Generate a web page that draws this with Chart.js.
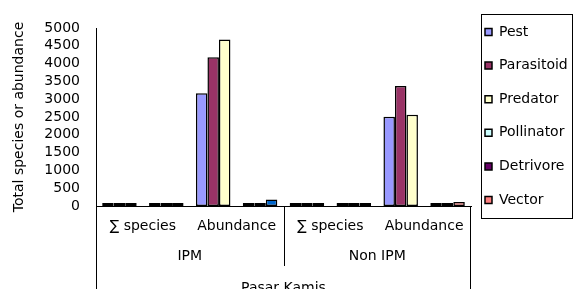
<!DOCTYPE html>
<html>
<head>
<meta charset="utf-8">
<script src="https://cdn.jsdelivr.net/npm/chart.js@4"></script>
<style>
  html, body { margin: 0; padding: 0; background: #fff; }
  #wrap { width: 574px; height: 289px; position: relative; }
</style>
</head>
<body>
<div id="wrap"><canvas id="chart"></canvas></div>
<script>
// axis groups (outer levels of the category axis)
const siteName = 'Pasar Kamis';
const groupNames = ['IPM', 'Non IPM'];
const measureNames = ['∑ species', 'Abundance'];
// inner categories (not labelled on the original chart)
const categories = [
  'IPM species 1', 'IPM species 2', 'IPM abundance 1', 'IPM abundance 2',
  'Non IPM species 1', 'Non IPM species 2', 'Non IPM abundance 1', 'Non IPM abundance 2'
];

const pest       = [30, null, 3170, null, 28, null, 2510, null];
const parasitoid = [22, null, 4180, null, 20, null, 3370, null];
const predator   = [35, null, 4680, null, 30, null, 2560, null];
const pollinator = [null, 12, null, 40, null, 10, null, 8];
const detrivore  = [null, 8, null, 10, null, 6, null, 15];
const vector     = [null, 10, null, 180, null, 9, null, 110];

const yMax = 5000;
const yStep = 500;

const FONT = 'DejaVu Sans';

function series(label, data, color) {
  return {
    label: label,
    data: data,
    backgroundColor: color,
    borderColor: '#000',
    borderWidth: 1.5,
    borderSkipped: false,
    skipNull: true,
    minBarLength: 3,
    categoryPercentage: 0.736,
    barPercentage: 1
  };
}

// Excel recoloured the IPM abundance vector bar
const vectorColor = ctx => (ctx.type === 'data' && ctx.dataIndex === 3) ? '#0066CC' : '#FF8080';

const axisLabels = {
  id: 'axisLabels',
  afterDraw(chart) {
    const ctx = chart.ctx;
    const x = chart.scales.x;
    const area = chart.chartArea;
    const bottom = chart.height;
    ctx.save();
    ctx.strokeStyle = '#000';
    ctx.lineWidth = 1;
    ctx.beginPath();
    ctx.moveTo(Math.round(area.left) + 0.5, area.bottom);
    ctx.lineTo(Math.round(area.left) + 0.5, bottom);
    ctx.moveTo(Math.round(area.right) - 0.5, area.bottom);
    ctx.lineTo(Math.round(area.right) - 0.5, bottom);
    const mid = (x.getPixelForValue(3) + x.getPixelForValue(4)) / 2;
    ctx.moveTo(Math.round(mid) + 0.5, area.bottom);
    ctx.lineTo(Math.round(mid) + 0.5, area.bottom + 60);
    ctx.stroke();

    ctx.fillStyle = '#000';
    ctx.font = '14px "' + FONT + '"';
    ctx.textAlign = 'center';
    ctx.textBaseline = 'middle';
    groupNames.forEach((g, gi) => {
      measureNames.forEach((m, mi) => {
        const i = gi * 4 + mi * 2;
        const cx = (x.getPixelForValue(i) + x.getPixelForValue(i + 1)) / 2;
        ctx.fillText(m, cx, area.bottom + 20);
      });
      const gx = (x.getPixelForValue(gi * 4) + x.getPixelForValue(gi * 4 + 3)) / 2;
      ctx.fillText(g, gx, area.bottom + 50);
    });
    ctx.fillText(siteName, (area.left + area.right) / 2, area.bottom + 82);

    // legend frame
    const lg = chart.legend;
    const boxes = lg.legendHitBoxes;
    const top = boxes[0].top - 11;
    const bot = boxes[boxes.length - 1].top + 25;
    ctx.strokeRect(Math.round(lg.left) + 10.5, Math.round(top) + 0.5, 91, Math.round(bot - top));
    ctx.restore();
  }
};

new Chart(document.getElementById('chart'), {
  type: 'bar',
  data: {
    labels: categories,
    datasets: [
      series('Pest', pest, '#9999FF'),
      series('Parasitoid', parasitoid, '#993366'),
      series('Predator', predator, '#FFFFCC'),
      series('Pollinator', pollinator, '#CCFFFF'),
      series('Detrivore', detrivore, '#660066'),
      series('Vector', vector, vectorColor)
    ]
  },
  options: {
    responsive: true,
    maintainAspectRatio: false,
    animation: false,
    devicePixelRatio: 1,
    layout: { padding: { top: 11, bottom: 0, left: 0, right: 0 } },
    plugins: {
      tooltip: { enabled: false },
      legend: {
        position: 'right',
        align: 'start',
        maxWidth: 103,
        labels: {
          color: '#000',
          font: { family: FONT, size: 14, lineHeight: 1.4 },
          boxWidth: 7,
          boxHeight: 7,
          padding: 14,
          generateLabels: chart =>
            Chart.defaults.plugins.legend.labels.generateLabels(chart)
              .map(item => Object.assign(item, { text: [item.text], lineWidth: 1.5 }))
        }
      }
    },
    scales: {
      x: {
        afterFit: s => { s.height = 83; },
        grid: { display: false, drawTicks: false },
        border: { display: true, color: '#000', width: 1 },
        ticks: { display: false }
      },
      xTop: {
        type: 'category',
        position: 'top',
        afterFit: s => { s.height = 17; },
        grid: { display: false, drawTicks: false },
        border: { display: false },
        ticks: { display: false }
      },
      y: {
        min: 0,
        max: yMax,
        afterFit: s => { s.width = 96; },
        grid: { display: false, drawTicks: false },
        border: { display: true, color: '#000', width: 1 },
        ticks: {
          stepSize: yStep,
          autoSkip: false,
          padding: 16,
          color: '#000',
          font: { family: FONT, size: 14 },
          callback: v => String(v)
        },
        title: {
          display: true,
          text: 'Total species or abundance',
          color: '#000',
          font: { family: FONT, size: 14 },
          padding: { top: 11, bottom: 0 }
        }
      }
    }
  },
  plugins: [axisLabels]
});
</script>
</body>
</html>
